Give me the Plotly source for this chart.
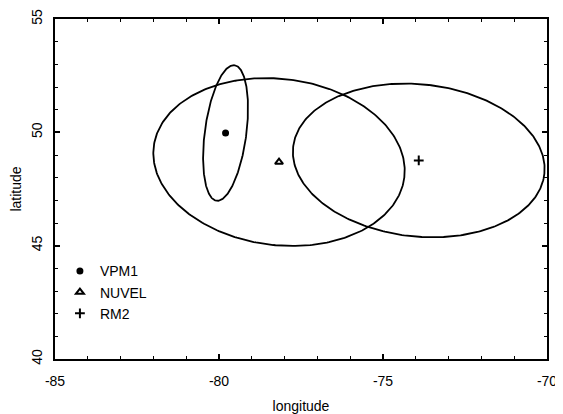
import numpy as np
import plotly.graph_objects as go

# ---- data ----
model_names = ["VPM1", "NUVEL", "RM2"]
pole_lon = [-79.8, -78.17, -73.91]
pole_lat = [49.97, 48.69, 48.76]
# error ellipse conjugate semi-axis vectors (degrees lon / lat)
ell_ax1_lon = [0.274, 3.82, 3.83]
ell_ax1_lat = [2.99, -0.68, -0.584]
ell_ax2_lon = [0.628, 0.308, 0.242]
ell_ax2_lat = [-0.122, 3.64, 3.34]

x_range = [-85, -70]
y_range = [40, 55]
x_ticks = [-85, -80, -75, -70]
x_tick_labels = ["-85", "-80", "-75", "-70"]
y_ticks = [40, 45, 50, 55]
y_tick_labels = ["40", "45", "50", "55"]

symbols = ["circle", "triangle-up-open", "cross-thin"]
sizes = [5, 7, 7]

FONT = "Liberation Sans, Arial, sans-serif"

fig = go.Figure()

t = np.linspace(0, 2 * np.pi, 361)
for i in range(len(model_names)):
    ex = pole_lon[i] + ell_ax1_lon[i] * np.cos(t) + ell_ax2_lon[i] * np.sin(t)
    ey = pole_lat[i] + ell_ax1_lat[i] * np.cos(t) + ell_ax2_lat[i] * np.sin(t)
    fig.add_trace(go.Scatter(x=ex, y=ey, mode="lines",
                             line=dict(color="black", width=1.8),
                             showlegend=False, hoverinfo="skip"))

for i, name in enumerate(model_names):
    fig.add_trace(go.Scatter(
        x=[pole_lon[i]], y=[pole_lat[i]], mode="markers", name=name,
        legendgroup=name,
        marker=dict(symbol=symbols[i], size=sizes[i], color="black",
                    line=dict(color="black", width=2))))

axis_common = dict(
    showgrid=False, zeroline=False, showline=True, linecolor="black",
    linewidth=2, mirror="allticks", ticks="inside", ticklen=5,
    tickwidth=1.5, tickcolor="black", automargin=False,
    tickfont=dict(family=FONT, size=14, color="black"),
)

fig.update_xaxes(
    range=x_range, tickvals=x_ticks, ticktext=x_tick_labels, ticklabelstandoff=8,
    minor=dict(dtick=1, ticks="inside", ticklen=3, tickwidth=1.2, tickcolor="black"),
    title=dict(text="longitude", standoff=13,
               font=dict(family=FONT, size=14, color="black")),
    **axis_common)
fig.update_yaxes(
    range=y_range, tickvals=y_ticks, ticktext=y_tick_labels, tickangle=-90,
    ticklabelstandoff=5,
    minor=dict(dtick=1, ticks="inside", ticklen=3, tickwidth=1.2, tickcolor="black"),
    title=dict(text="latitude", standoff=6,
               font=dict(family=FONT, size=14, color="black")),
    **axis_common)

# the page body adds an 8px margin, so the figure is sized/offset to compensate
fig.update_layout(
    width=555, height=406,
    margin=dict(l=47, r=16, t=11, b=55),
    paper_bgcolor="white", plot_bgcolor="white",
    font=dict(family=FONT, size=14, color="black"),
    legend=dict(x=0.01, y=0.305, xanchor="left", yanchor="top",
                bgcolor="rgba(0,0,0,0)", borderwidth=0,
                tracegroupgap=0, traceorder="grouped",
                font=dict(family=FONT, size=14, color="black")),
)

fig.write_html("out.html")
